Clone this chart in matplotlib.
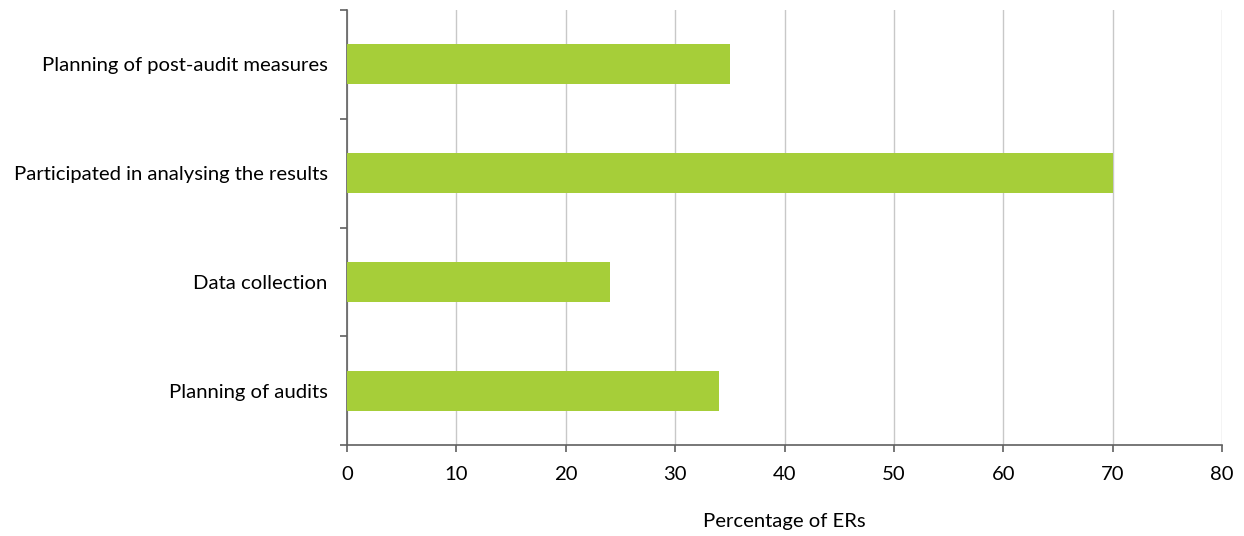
import matplotlib
matplotlib.use("Agg")
import matplotlib.pyplot as plt
import numpy as np

# --- data -----------------------------------------------------------------
categories = ["Planning of audits", "Data collection",
              "Participated in analysing the results",
              "Planning of post-audit measures"]
values = [34, 24, 70, 35]
xticks = [0, 10, 20, 30, 40, 50, 60, 70, 80]

GREEN = "#A6CE39"
SPINE = "#606060"
FS = 14.6

plt.rcParams["font.family"] = ["Lato", "DejaVu Sans"]

fig = plt.figure(figsize=(12.44, 5.36), dpi=100)
ax = fig.add_axes([347 / 1244, 1 - 445 / 536, (1222 - 347) / 1244, (445 - 10) / 536])

y = np.arange(len(categories))
ax.barh(y, values, height=0.37, color=GREEN, zorder=3)

ax.set_xlim(0, 80)
ax.set_ylim(-0.5, len(categories) - 0.5)
ax.set_xticks(xticks)
ax.set_xticklabels([str(t) for t in xticks], fontsize=FS)
ax.set_yticks(y)
ax.set_yticklabels(categories, fontsize=FS)
ax.set_yticks(np.arange(-0.5, len(categories)), minor=True)

ax.tick_params(axis="y", which="major", length=0, pad=14)
ax.tick_params(axis="y", which="minor", length=5, color=SPINE, width=1.2)
ax.tick_params(axis="x", length=5, color=SPINE, width=1.2, pad=10)

ax.grid(axis="x", color="#c8c8c8", linewidth=1, zorder=0)
for s in ["top", "right"]:
    ax.spines[s].set_visible(False)
for s in ["left", "bottom"]:
    ax.spines[s].set_color(SPINE)
    ax.spines[s].set_linewidth(1.2)

ax.set_xlabel("Percentage of ERs", fontsize=FS, labelpad=22)

fig.savefig("out.png", dpi=100)
